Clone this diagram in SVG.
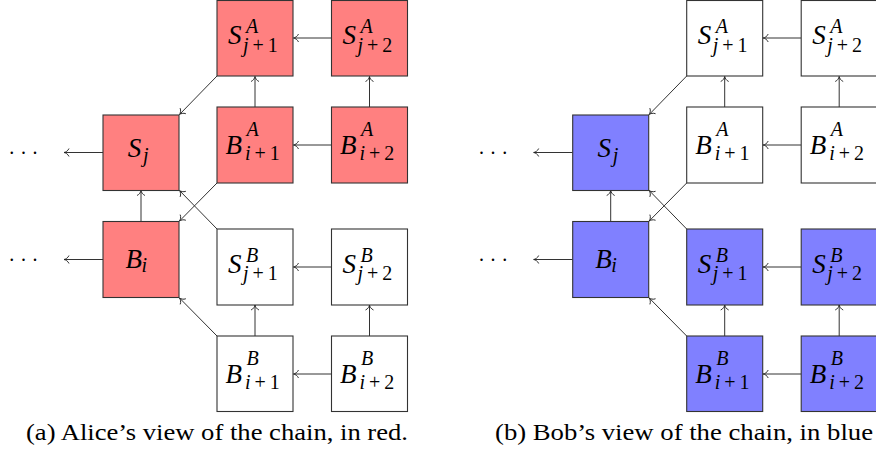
<svg xmlns="http://www.w3.org/2000/svg" width="876" height="462" viewBox="0 0 876 462">
<style>
.box{stroke:#333;stroke-width:1.1}
.red{fill:#FF8080}
.blue{fill:#8080FF}
.white{fill:#FFFFFF}
.c line{stroke:#333;stroke-width:1;marker-end:url(#ah)}
</style>
<defs>
<marker id="ah" markerUnits="userSpaceOnUse" markerWidth="10" markerHeight="12" viewBox="-8 -6 10 12" refX="0" refY="0" orient="auto">
<path d="M-5,-4 C-4,-1.5 -1.5,-0.3 0,0 C-1.5,0.3 -4,1.5 -5,4" fill="none" stroke="#222" stroke-width="0.9"/>
</marker>
</defs>
<rect width="876" height="462" fill="#fff"/>
<g id="panel-a">
<g id="a-connectors" class="c">
<line x1="331.5" y1="38" x2="293.5" y2="38"/>
<line x1="331.5" y1="145" x2="293.5" y2="145"/>
<line x1="331.5" y1="267" x2="293.5" y2="267"/>
<line x1="331.5" y1="374" x2="293.5" y2="374"/>
<line x1="255" y1="107" x2="255" y2="76.5"/>
<line x1="369.5" y1="107" x2="369.5" y2="76.5"/>
<line x1="255" y1="336" x2="255" y2="305"/>
<line x1="369.5" y1="336" x2="369.5" y2="305"/>
<line x1="217" y1="76" x2="179.5" y2="114.5"/>
<line x1="217" y1="183" x2="179.5" y2="221"/>
<line x1="217" y1="229" x2="179.5" y2="190.5"/>
<line x1="217" y1="336" x2="179.5" y2="298"/>
<line x1="141" y1="221.5" x2="141" y2="190.5"/>
<line x1="103" y1="152.5" x2="64" y2="152.5"/>
<line x1="103" y1="259.5" x2="64" y2="259.5"/>
</g>
<g id="a-dots1"><text font-family="'Liberation Serif'" font-size="20" letter-spacing="6.7" x="9.2" y="153.8">...</text></g>
<g id="a-dots2"><text font-family="'Liberation Serif'" font-size="20" letter-spacing="6.7" x="9.2" y="260.8">...</text></g>
<g id="a-Sj"><rect class="box red" x="103" y="115" width="76" height="75.5"/>
<text font-family="'Liberation Serif'" font-style="italic"><tspan font-size="27" x="127.8" y="157">S</tspan><tspan font-size="20" x="143" y="162">j</tspan></text></g>
<g id="a-Bi"><rect class="box red" x="103" y="221.5" width="76" height="76"/>
<text font-family="'Liberation Serif'" font-style="italic"><tspan font-size="27" x="125.5" y="267.5">B</tspan><tspan font-size="20" x="141.5" y="271.5">i</tspan></text></g>
<g id="a-SA1"><rect class="box red" x="217" y="0.5" width="76" height="75.5"/>
<text font-family="'Liberation Serif'" font-size="20"><tspan font-style="italic" font-size="27" x="228" y="44">S</tspan><tspan font-style="italic" x="246" y="33">A</tspan><tspan font-style="italic" x="243" y="51.5">j</tspan><tspan dx="4">+</tspan><tspan dx="4">1</tspan></text></g>
<g id="a-SA2"><rect class="box red" x="331.5" y="0.5" width="76" height="75.5"/>
<text font-family="'Liberation Serif'" font-size="20"><tspan font-style="italic" font-size="27" x="342.5" y="44">S</tspan><tspan font-style="italic" x="360.5" y="33">A</tspan><tspan font-style="italic" x="357.5" y="51.5">j</tspan><tspan dx="4">+</tspan><tspan dx="4">2</tspan></text></g>
<g id="a-BA1"><rect class="box red" x="217" y="107" width="76" height="76"/>
<text font-family="'Liberation Serif'" font-size="20"><tspan font-style="italic" font-size="27" x="225.5" y="154">B</tspan><tspan font-style="italic" x="246.5" y="136">A</tspan><tspan font-style="italic" x="245" y="159.5">i</tspan><tspan dx="4">+</tspan><tspan dx="4">1</tspan></text></g>
<g id="a-BA2"><rect class="box red" x="331.5" y="107" width="76" height="76"/>
<text font-family="'Liberation Serif'" font-size="20"><tspan font-style="italic" font-size="27" x="340" y="154">B</tspan><tspan font-style="italic" x="361" y="136">A</tspan><tspan font-style="italic" x="359.5" y="159.5">i</tspan><tspan dx="4">+</tspan><tspan dx="4">2</tspan></text></g>
<g id="a-SB1"><rect class="box white" x="217" y="229" width="76" height="76"/>
<text font-family="'Liberation Serif'" font-size="20"><tspan font-style="italic" font-size="27" x="228" y="272.5">S</tspan><tspan font-style="italic" x="246" y="261.5">B</tspan><tspan font-style="italic" x="243" y="280">j</tspan><tspan dx="4">+</tspan><tspan dx="4">1</tspan></text></g>
<g id="a-SB2"><rect class="box white" x="331.5" y="229" width="76" height="76"/>
<text font-family="'Liberation Serif'" font-size="20"><tspan font-style="italic" font-size="27" x="342.5" y="272.5">S</tspan><tspan font-style="italic" x="360.5" y="261.5">B</tspan><tspan font-style="italic" x="357.5" y="280">j</tspan><tspan dx="4">+</tspan><tspan dx="4">2</tspan></text></g>
<g id="a-BB1"><rect class="box white" x="217" y="336" width="76" height="75.5"/>
<text font-family="'Liberation Serif'" font-size="20"><tspan font-style="italic" font-size="27" x="225.5" y="383">B</tspan><tspan font-style="italic" x="246.5" y="365">B</tspan><tspan font-style="italic" x="245" y="388.5">i</tspan><tspan dx="4">+</tspan><tspan dx="4">1</tspan></text></g>
<g id="a-BB2"><rect class="box white" x="331.5" y="336" width="76" height="75.5"/>
<text font-family="'Liberation Serif'" font-size="20"><tspan font-style="italic" font-size="27" x="340" y="383">B</tspan><tspan font-style="italic" x="361" y="365">B</tspan><tspan font-style="italic" x="359.5" y="388.5">i</tspan><tspan dx="4">+</tspan><tspan dx="4">2</tspan></text></g>
<g id="a-caption"><text font-family="'Liberation Serif'" font-size="24" x="26" y="440" textLength="382" lengthAdjust="spacingAndGlyphs">(a) Alice’s view of the chain, in red.</text></g>
</g>

<g id="panel-b" transform="translate(469.7 0)">
<g id="b-connectors" class="c">
<line x1="331.5" y1="38" x2="293.5" y2="38"/>
<line x1="331.5" y1="145" x2="293.5" y2="145"/>
<line x1="331.5" y1="267" x2="293.5" y2="267"/>
<line x1="331.5" y1="374" x2="293.5" y2="374"/>
<line x1="255" y1="107" x2="255" y2="76.5"/>
<line x1="369.5" y1="107" x2="369.5" y2="76.5"/>
<line x1="255" y1="336" x2="255" y2="305"/>
<line x1="369.5" y1="336" x2="369.5" y2="305"/>
<line x1="217" y1="76" x2="179.5" y2="114.5"/>
<line x1="217" y1="183" x2="179.5" y2="221"/>
<line x1="217" y1="229" x2="179.5" y2="190.5"/>
<line x1="217" y1="336" x2="179.5" y2="298"/>
<line x1="141" y1="221.5" x2="141" y2="190.5"/>
<line x1="103" y1="152.5" x2="64" y2="152.5"/>
<line x1="103" y1="259.5" x2="64" y2="259.5"/>
</g>
<g id="b-dots1"><text font-family="'Liberation Serif'" font-size="20" letter-spacing="6.7" x="9.2" y="153.8">...</text></g>
<g id="b-dots2"><text font-family="'Liberation Serif'" font-size="20" letter-spacing="6.7" x="9.2" y="260.8">...</text></g>
<g id="b-Sj"><rect class="box blue" x="103" y="115" width="76" height="75.5"/>
<text font-family="'Liberation Serif'" font-style="italic"><tspan font-size="27" x="127.8" y="157">S</tspan><tspan font-size="20" x="143" y="162">j</tspan></text></g>
<g id="b-Bi"><rect class="box blue" x="103" y="221.5" width="76" height="76"/>
<text font-family="'Liberation Serif'" font-style="italic"><tspan font-size="27" x="125.5" y="267.5">B</tspan><tspan font-size="20" x="141.5" y="271.5">i</tspan></text></g>
<g id="b-SA1"><rect class="box white" x="217" y="0.5" width="76" height="75.5"/>
<text font-family="'Liberation Serif'" font-size="20"><tspan font-style="italic" font-size="27" x="228" y="44">S</tspan><tspan font-style="italic" x="246" y="33">A</tspan><tspan font-style="italic" x="243" y="51.5">j</tspan><tspan dx="4">+</tspan><tspan dx="4">1</tspan></text></g>
<g id="b-SA2"><rect class="box white" x="331.5" y="0.5" width="76" height="75.5"/>
<text font-family="'Liberation Serif'" font-size="20"><tspan font-style="italic" font-size="27" x="342.5" y="44">S</tspan><tspan font-style="italic" x="360.5" y="33">A</tspan><tspan font-style="italic" x="357.5" y="51.5">j</tspan><tspan dx="4">+</tspan><tspan dx="4">2</tspan></text></g>
<g id="b-BA1"><rect class="box white" x="217" y="107" width="76" height="76"/>
<text font-family="'Liberation Serif'" font-size="20"><tspan font-style="italic" font-size="27" x="225.5" y="154">B</tspan><tspan font-style="italic" x="246.5" y="136">A</tspan><tspan font-style="italic" x="245" y="159.5">i</tspan><tspan dx="4">+</tspan><tspan dx="4">1</tspan></text></g>
<g id="b-BA2"><rect class="box white" x="331.5" y="107" width="76" height="76"/>
<text font-family="'Liberation Serif'" font-size="20"><tspan font-style="italic" font-size="27" x="340" y="154">B</tspan><tspan font-style="italic" x="361" y="136">A</tspan><tspan font-style="italic" x="359.5" y="159.5">i</tspan><tspan dx="4">+</tspan><tspan dx="4">2</tspan></text></g>
<g id="b-SB1"><rect class="box blue" x="217" y="229" width="76" height="76"/>
<text font-family="'Liberation Serif'" font-size="20"><tspan font-style="italic" font-size="27" x="228" y="272.5">S</tspan><tspan font-style="italic" x="246" y="261.5">B</tspan><tspan font-style="italic" x="243" y="280">j</tspan><tspan dx="4">+</tspan><tspan dx="4">1</tspan></text></g>
<g id="b-SB2"><rect class="box blue" x="331.5" y="229" width="76" height="76"/>
<text font-family="'Liberation Serif'" font-size="20"><tspan font-style="italic" font-size="27" x="342.5" y="272.5">S</tspan><tspan font-style="italic" x="360.5" y="261.5">B</tspan><tspan font-style="italic" x="357.5" y="280">j</tspan><tspan dx="4">+</tspan><tspan dx="4">2</tspan></text></g>
<g id="b-BB1"><rect class="box blue" x="217" y="336" width="76" height="75.5"/>
<text font-family="'Liberation Serif'" font-size="20"><tspan font-style="italic" font-size="27" x="225.5" y="383">B</tspan><tspan font-style="italic" x="246.5" y="365">B</tspan><tspan font-style="italic" x="245" y="388.5">i</tspan><tspan dx="4">+</tspan><tspan dx="4">1</tspan></text></g>
<g id="b-BB2"><rect class="box blue" x="331.5" y="336" width="76" height="75.5"/>
<text font-family="'Liberation Serif'" font-size="20"><tspan font-style="italic" font-size="27" x="340" y="383">B</tspan><tspan font-style="italic" x="361" y="365">B</tspan><tspan font-style="italic" x="359.5" y="388.5">i</tspan><tspan dx="4">+</tspan><tspan dx="4">2</tspan></text></g>
<g id="b-caption"><text font-family="'Liberation Serif'" font-size="24" x="25.3" y="440" textLength="378" lengthAdjust="spacingAndGlyphs">(b) Bob’s view of the chain, in blue</text></g>
</g>
</svg>
